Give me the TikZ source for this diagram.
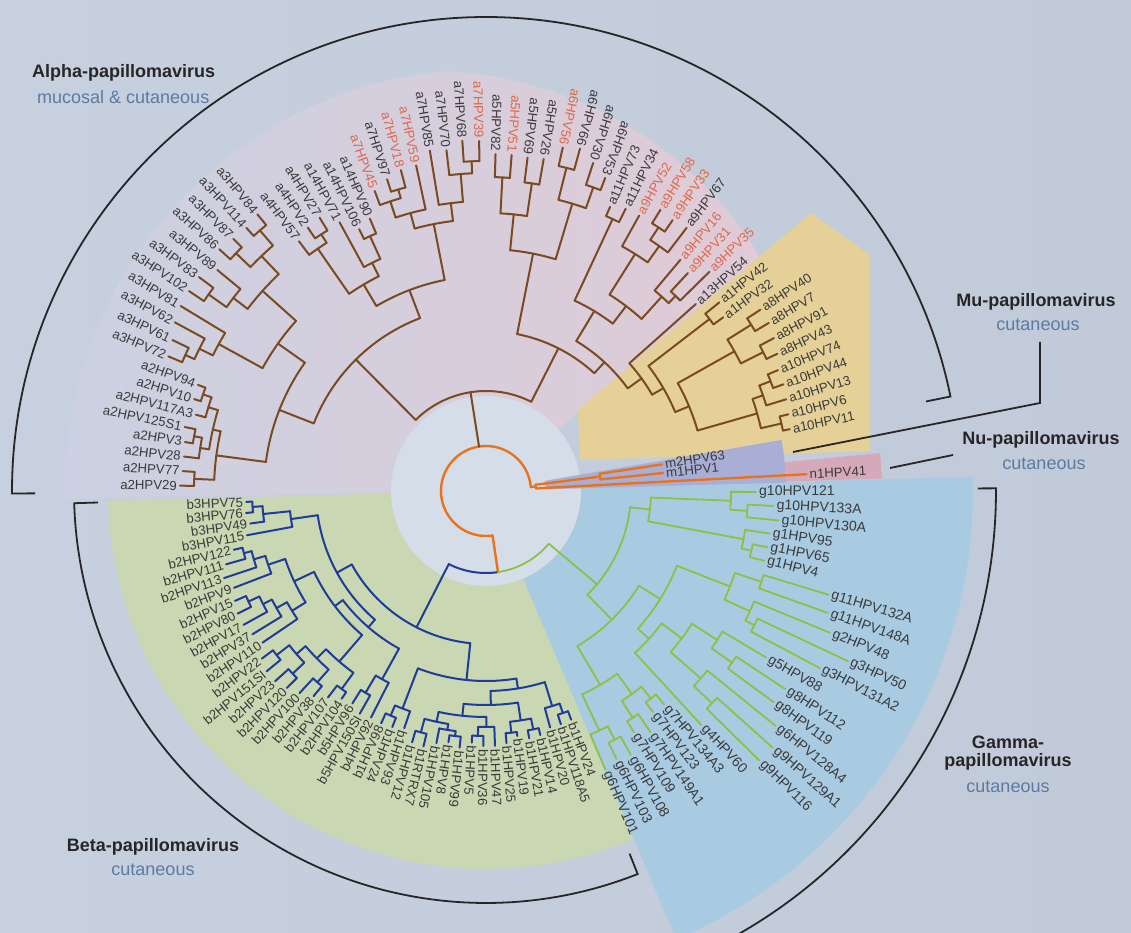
\documentclass[tikz,border=0pt]{standalone}
\usepackage{fontspec}
\setmainfont{Liberation Sans}
\definecolor{pagebg}{HTML}{C7D0DE}
\definecolor{pagebg2}{HTML}{C1CAD8}
\definecolor{discbg}{HTML}{D5DDE8}
\definecolor{alphaL}{HTML}{CBD1E2}
\definecolor{alphaR}{HTML}{E0CBD6}
\definecolor{yel}{HTML}{E5D197}
\definecolor{betabg}{HTML}{C9D7B2}
\definecolor{gambg}{HTML}{A9CBE2}
\definecolor{lav}{HTML}{A9AED6}
\definecolor{pnk}{HTML}{D6A9BA}
\definecolor{cbrn}{HTML}{7A4A22}
\definecolor{cblu}{HTML}{1F3C98}
\definecolor{cgrn}{HTML}{8DC046}
\definecolor{corg}{HTML}{E8731F}
\definecolor{clbl}{HTML}{3A3A3A}
\definecolor{chr}{HTML}{E0674B}
\definecolor{csub}{HTML}{5B7BA3}
\tikzset{
  brn/.style={draw=cbrn,line width=2pt,line cap=round},
  blu/.style={draw=cblu,line width=2pt,line cap=round},
  grn/.style={draw=cgrn,line width=1.8pt,line cap=round},
  org/.style={draw=corg,line width=2.4pt,line cap=round},
  ln/.style={text=clbl,inner sep=0pt,font=\fontsize{13.2}{14}\selectfont},
  lg/.style={ln,font=\fontsize{14}{15}\selectfont},
  lr/.style={ln,text=chr},
  brk/.style={draw=black!85,line width=1.8pt},
  ttl/.style={font=\fontsize{18}{20}\selectfont\bfseries,text=black!85,inner sep=0pt},
  sbt/.style={font=\fontsize{18}{20}\selectfont,text=csub,inner sep=0pt},
}
% internal node: style, angle, parent radius, radius, arc from, arc to
\newcommand\nd[6]{%
  \draw[#1] (#2:#3pt) -- (#2:#4pt);
  \draw[#1] (#5:#4pt) arc[start angle=#5,end angle=#6,radius=#4pt];}
% leaf: branch style, label style, name, angle, parent radius, tip radius, text
\newcommand\lf[7]{%
  \draw[#1] (#4:#5pt) -- (#4:#6pt);
  \pgfmathsetmacro\lbrad{#6+3}%
  \pgfmathtruncatemacro\isleft{and(#4>67.8,#4<247.8)}%
  \ifnum\isleft=1
    \node[#2,anchor=east,rotate=#4-180] (#3) at (#4:\lbrad pt) {#7};
  \else
    \node[#2,anchor=west,rotate=#4] (#3) at (#4:\lbrad pt) {#7};
  \fi}
\newcommand\sector[5]{\fill[#5] (#1:#3pt) -- (#1:#4pt) arc[start angle=#1,end angle=#2,radius=#4pt] -- (#2:#3pt) arc[start angle=#2,end angle=#1,radius=#3pt] -- cycle;}
\begin{document}
\begin{tikzpicture}[x=1pt,y=1pt]
\useasboundingbox (-486,-442) rectangle (645,491);
\clip (-486,-442) rectangle (645,491);
\shade[left color=pagebg,right color=pagebg2] (-486,-442) rectangle (645,491);
% background sectors
\shade[left color=alphaL,right color=alphaR] (40.5:95pt) -- plot[domain=40.5:181,samples=60,variable=\t] ({\t}:{360+62*min(1,(\t-40.5)/55)}) -- (181:95pt) arc[start angle=181,end angle=40.5,radius=95pt] -- cycle;
\fill[yel] (94,31) -- (92,81) -- (325,278) -- (384,236) -- (384,40) -- cycle;
\sector{181.5}{293}{95}{378}{betabg}
\sector{-67}{1.7}{95}{487}{gambg}
\fill[discbg] (0,0) circle[radius=95pt];
\sector{1.6}{9.8}{60}{300}{lav}
\sector{1.8}{5.5}{300}{396}{pnk}
% root
\draw[org] (5.1:45pt) arc[start angle=5.1,end angle=278.4,radius=45pt];
\draw[org] (5.1:45pt) -- (5.1:50pt);
\draw[org] (7.2:50pt) arc[start angle=7.2,end angle=3.0,radius=50pt];
\nd{org}{7.2}{50}{115}{8.6}{5.8}
\lf{org}{ln}{m2HPV63}{8.6}{115}{178}{m2HPV63}
\lf{org}{ln}{m1HPV1}{5.8}{115}{178}{m1HPV1}
\lf{org}{ln}{n1HPV41}{3.0}{50}{321}{n1HPV41}
\draw[org] (278.4:45pt) -- (278.4:82pt);
\draw[blu] (243:82pt) arc[start angle=243,end angle=278.4,radius=82pt];
\draw[grn] (278.4:82pt) arc[start angle=278.4,end angle=320,radius=82pt];
% ALPHA
\nd{brn}{98.9}{45}{100}{134.7}{63.1}
\nd{brn}{134.7}{100}{185}{158.58}{110.87}
\nd{brn}{158.58}{185}{222}{172.48}{144.68}
\nd{brn}{172.48}{222}{272}{177.63}{167.33}
\nd{brn}{177.63}{272}{292}{179.0}{176.25}
\lf{brn}{ln}{a2HPV29}{179.0}{292}{306}{a2HPV29}
\lf{brn}{ln}{a2HPV77}{176.25}{292}{304}{a2HPV77}
\nd{brn}{167.33}{272}{280}{171.44}{163.21}
\nd{brn}{171.44}{280}{289}{173.5}{169.38}
\lf{brn}{ln}{a2HPV28}{173.5}{289}{304}{a2HPV28}
\nd{brn}{169.38}{289}{297}{170.76}{168.0}
\lf{brn}{ln}{a2HPV3}{170.76}{297}{305}{a2HPV3}
\lf{brn}{ln}{a2HPV125S1}{168.0}{297}{308}{a2HPV125S1}
\nd{brn}{163.21}{280}{290}{165.27}{161.15}
\lf{brn}{ln}{a2HPV117A3}{165.27}{290}{300}{a2HPV117A3}
\nd{brn}{161.15}{290}{299}{162.52}{159.78}
\lf{brn}{ln}{a2HPV10}{162.52}{299}{306}{a2HPV10}
\lf{brn}{ln}{a2HPV94}{159.78}{299}{307}{a2HPV94}
\nd{brn}{144.68}{222}{255}{151.2}{138.16}
\nd{brn}{151.2}{255}{305}{153.6}{148.79}
\nd{brn}{153.6}{305}{320}{155.66}{151.54}
\nd{brn}{155.66}{320}{330}{157.03}{154.29}
\lf{brn}{ln}{a3HPV72}{157.03}{330}{345}{a3HPV72}
\lf{brn}{ln}{a3HPV61}{154.29}{330}{348}{a3HPV61}
\lf{brn}{ln}{a3HPV62}{151.54}{320}{354}{a3HPV62}
\lf{brn}{ln}{a3HPV81}{148.79}{305}{357}{a3HPV81}
\nd{brn}{138.16}{255}{300}{142.62}{133.7}
\nd{brn}{142.62}{300}{318}{144.68}{140.56}
\nd{brn}{144.68}{318}{340}{146.05}{143.3}
\lf{brn}{ln}{a3HPV102}{146.05}{340}{358}{a3HPV102}
\lf{brn}{ln}{a3HPV83}{143.3}{340}{358}{a3HPV83}
\lf{brn}{ln}{a3HPV89}{140.56}{318}{348}{a3HPV89}
\nd{brn}{133.7}{300}{325}{136.44}{130.95}
\nd{brn}{136.44}{325}{345}{137.81}{135.06}
\lf{brn}{ln}{a3HPV86}{137.81}{345}{360}{a3HPV86}
\lf{brn}{ln}{a3HPV87}{135.06}{345}{357}{a3HPV87}
\nd{brn}{130.95}{325}{345}{132.32}{129.57}
\lf{brn}{ln}{a3HPV114}{132.32}{345}{356}{a3HPV114}
\lf{brn}{ln}{a3HPV84}{129.57}{345}{359}{a3HPV84}
\nd{brn}{110.87}{185}{215}{120.65}{101.08}
\nd{brn}{120.65}{215}{240}{124.77}{116.53}
\nd{brn}{124.77}{240}{295}{126.83}{122.7}
\lf{brn}{ln}{a4HPV57}{126.83}{295}{312}{a4HPV57}
\nd{brn}{122.7}{295}{305}{124.08}{121.33}
\lf{brn}{ln}{a4HPV2}{124.08}{305}{318}{a4HPV2}
\lf{brn}{ln}{a4HPV27}{121.33}{305}{320}{a4HPV27}
\nd{brn}{116.53}{240}{255}{118.59}{114.47}
\lf{brn}{ln}{a14HPV71}{118.59}{255}{306}{a14HPV71}
\nd{brn}{114.47}{255}{280}{115.84}{113.1}
\lf{brn}{ln}{a14HPV106}{115.84}{280}{291}{a14HPV106}
\lf{brn}{ln}{a14HPV90}{113.1}{280}{296}{a14HPV90}
\nd{brn}{101.08}{215}{272}{105.2}{96.97}
\nd{brn}{105.2}{272}{288}{108.29}{102.11}
\nd{brn}{108.29}{288}{305}{110.35}{106.23}
\lf{brn}{lr}{a7HPV45}{110.35}{305}{320}{a7HPV45}
\nd{brn}{106.23}{305}{314}{107.6}{104.86}
\lf{brn}{ln}{a7HPV97}{107.6}{314}{327}{a7HPV97}
\lf{brn}{lr}{a7HPV18}{104.86}{314}{332}{a7HPV18}
\lf{brn}{lr}{a7HPV59}{102.11}{288}{333}{a7HPV59}
\nd{brn}{96.97}{272}{290}{99.37}{94.56}
\lf{brn}{ln}{a7HPV85}{99.37}{290}{345}{a7HPV85}
\nd{brn}{94.56}{290}{318}{96.62}{92.5}
\lf{brn}{ln}{a7HPV70}{96.62}{318}{343}{a7HPV70}
\nd{brn}{92.5}{318}{330}{93.87}{91.13}
\lf{brn}{ln}{a7HPV68}{93.87}{330}{351}{a7HPV68}
\lf{brn}{lr}{a7HPV39}{91.13}{330}{350}{a7HPV39}
\nd{brn}{63.1}{100}{160}{78.78}{47.4}
\nd{brn}{78.78}{160}{242}{84.27}{73.28}
\nd{brn}{84.27}{242}{278}{87.01}{81.52}
\nd{brn}{87.01}{278}{314}{88.38}{85.64}
\lf{brn}{ln}{a5HPV82}{88.38}{314}{337}{a5HPV82}
\lf{brn}{lr}{a5HPV51}{85.64}{314}{337}{a5HPV51}
\nd{brn}{81.52}{278}{311}{82.89}{80.14}
\lf{brn}{ln}{a5HPV69}{82.89}{311}{336}{a5HPV69}
\lf{brn}{ln}{a5HPV26}{80.14}{311}{337}{a5HPV26}
\nd{brn}{73.28}{242}{300}{76.03}{70.54}
\nd{brn}{76.03}{300}{333}{77.4}{74.65}
\lf{brn}{lr}{a6HPV56}{77.4}{333}{352}{a6HPV56}
\lf{brn}{ln}{a6HPV66}{74.65}{333}{355}{a6HPV66}
\nd{brn}{70.54}{300}{322}{71.91}{69.16}
\lf{brn}{ln}{a6HPV30}{71.91}{322}{345}{a6HPV30}
\lf{brn}{ln}{a6HPV53}{69.16}{322}{335}{a6HPV53}
\nd{brn}{47.4}{160}{175}{58.95}{35.9}
\nd{brn}{58.95}{175}{210}{65.04}{52.86}
\nd{brn}{65.04}{210}{300}{66.41}{63.67}
\lf{brn}{ln}{a11HPV73}{66.41}{300}{310}{a11HPV73}
\lf{brn}{ln}{a11HPV34}{63.67}{300}{315}{a11HPV34}
\nd{brn}{52.86}{210}{232}{57.83}{47.88}
\nd{brn}{57.83}{232}{280}{60.92}{54.74}
\lf{brn}{lr}{a9HPV52}{60.92}{280}{315}{a9HPV52}
\nd{brn}{54.74}{280}{300}{56.8}{52.68}
\nd{brn}{56.8}{300}{315}{58.18}{55.43}
\lf{brn}{lr}{a9HPV58}{58.18}{315}{331}{a9HPV58}
\lf{brn}{lr}{a9HPV33}{55.43}{315}{329}{a9HPV33}
\lf{brn}{ln}{a9HPV67}{52.68}{300}{331}{a9HPV67}
\nd{brn}{47.88}{232}{262}{49.94}{45.82}
\lf{brn}{lr}{a9HPV16}{49.94}{262}{302}{a9HPV16}
\nd{brn}{45.82}{262}{272}{47.19}{44.45}
\lf{brn}{lr}{a9HPV31}{47.19}{272}{297}{a9HPV31}
\lf{brn}{lr}{a9HPV35}{44.45}{272}{313}{a9HPV35}
\nd{brn}{35.9}{175}{192}{41.7}{30.1}
\lf{brn}{ln}{a13HPV54}{41.7}{192}{281}{a13HPV54}
\nd{brn}{30.1}{192}{205}{37.58}{22.65}
\nd{brn}{37.58}{205}{282}{38.95}{36.21}
\lf{brn}{ln}{a1HPV42}{38.95}{282}{300}{a1HPV42}
\lf{brn}{ln}{a1HPV32}{36.21}{282}{294}{a1HPV32}
\nd{brn}{22.65}{205}{220}{29.35}{15.96}
\nd{brn}{29.35}{220}{285}{32.09}{26.6}
\nd{brn}{32.09}{285}{313}{33.46}{30.72}
\lf{brn}{ln}{a8HPV40}{33.46}{313}{329}{a8HPV40}
\lf{brn}{ln}{a8HPV7}{30.72}{313}{329}{a8HPV7}
\nd{brn}{26.6}{285}{310}{27.97}{25.22}
\lf{brn}{ln}{a8HPV91}{27.97}{310}{326}{a8HPV91}
\lf{brn}{ln}{a8HPV43}{25.22}{310}{322}{a8HPV43}
\nd{brn}{15.96}{220}{282}{19.05}{12.87}
\nd{brn}{19.05}{282}{293}{21.1}{16.99}
\nd{brn}{21.1}{293}{305}{22.48}{19.73}
\lf{brn}{ln}{a10HPV74}{22.48}{305}{316}{a10HPV74}
\lf{brn}{ln}{a10HPV44}{19.73}{305}{316}{a10HPV44}
\lf{brn}{ln}{a10HPV13}{16.99}{293}{314}{a10HPV13}
\nd{brn}{12.87}{282}{303}{14.24}{11.5}
\lf{brn}{ln}{a10HPV6}{14.24}{303}{312}{a10HPV6}
\lf{brn}{ln}{a10HPV11}{11.5}{303}{310}{a10HPV11}
% BETA
\nd{blu}{243}{82}{153}{208.7}{264.1}
\nd{blu}{208.7}{153}{170}{188.2}{229.2}
\nd{blu}{188.2}{170}{197}{185.9}{190.49}
\nd{blu}{185.9}{197}{224}{183.9}{187.86}
\nd{blu}{183.9}{224}{234}{182.6}{185.23}
\lf{blu}{ln}{b3HPV75}{182.6}{234}{240}{b3HPV75}
\lf{blu}{ln}{b3HPV76}{185.23}{234}{241}{b3HPV76}
\lf{blu}{ln}{b3HPV49}{187.86}{224}{238}{b3HPV49}
\lf{blu}{ln}{b3HPV115}{190.49}{197}{243}{b3HPV115}
\nd{blu}{229.2}{170}{180}{217.3}{241.1}
\nd{blu}{217.3}{180}{190}{205.2}{229.3}
\nd{blu}{205.2}{190}{212}{198.7}{211.7}
\nd{blu}{198.7}{212}{230}{196.4}{201.01}
\nd{blu}{196.4}{230}{242}{194.4}{198.38}
\nd{blu}{194.4}{242}{250}{193.12}{195.75}
\lf{blu}{ln}{b2HPV122}{193.12}{250}{259}{b2HPV122}
\lf{blu}{ln}{b2HPV111}{195.75}{250}{270}{b2HPV111}
\lf{blu}{ln}{b2HPV113}{198.38}{242}{276}{b2HPV113}
\lf{blu}{ln}{b2HPV9}{201.01}{230}{270}{b2HPV9}
\nd{blu}{211.7}{212}{228}{209.2}{214.16}
\nd{blu}{209.2}{228}{240}{206.9}{211.53}
\nd{blu}{206.9}{240}{250}{204.96}{208.9}
\nd{blu}{204.96}{250}{262}{203.64}{206.27}
\lf{blu}{ln}{b2HPV15}{203.64}{262}{274}{b2HPV15}
\lf{blu}{ln}{b2HPV80}{206.27}{262}{277}{b2HPV80}
\lf{blu}{ln}{b2HPV17}{208.9}{250}{277}{b2HPV17}
\lf{blu}{ln}{b2HPV37}{211.53}{240}{274}{b2HPV37}
\lf{blu}{ln}{b2HPV110}{214.16}{228}{270}{b2HPV110}
\nd{blu}{229.3}{190}{225}{224.7}{233.9}
\nd{blu}{224.7}{225}{238}{220.7}{228.6}
\nd{blu}{220.7}{238}{250}{218.1}{223.37}
\nd{blu}{218.1}{250}{266}{216.79}{219.42}
\lf{blu}{ln}{b2HPV22}{216.79}{266}{280}{b2HPV22}
\lf{blu}{ln}{b2HPV151SI}{219.42}{266}{284}{b2HPV151SI}
\nd{blu}{223.37}{250}{266}{222.05}{224.68}
\lf{blu}{ln}{b2HPV23}{222.05}{266}{284}{b2HPV23}
\lf{blu}{ln}{b2HPV120}{224.68}{266}{280}{b2HPV120}
\nd{blu}{228.6}{238}{255}{227.31}{229.94}
\lf{blu}{ln}{b2HPV100}{227.31}{255}{275}{b2HPV100}
\lf{blu}{ln}{b2HPV38}{229.94}{255}{268}{b2HPV38}
\nd{blu}{233.9}{225}{245}{232.57}{235.2}
\lf{blu}{ln}{b2HPV107}{232.57}{245}{260}{b2HPV107}
\lf{blu}{ln}{b2HPV104}{235.2}{245}{253}{b2HPV104}
\nd{blu}{241.1}{180}{215}{239.15}{243.09}
\nd{blu}{239.15}{215}{235}{237.83}{240.46}
\lf{blu}{ln}{b5HPV96}{237.83}{235}{251}{b5HPV96}
\lf{blu}{ln}{b5HPV150SI}{240.46}{235}{256}{b5HPV150SI}
\lf{blu}{ln}{b4HPV92}{243.09}{215}{254}{b4HPV92}
\nd{blu}{264.1}{153}{190}{249.0}{279.2}
\nd{blu}{249.0}{190}{233}{247.0}{250.98}
\nd{blu}{247.0}{233}{244}{245.72}{248.35}
\lf{blu}{ln}{b1HPV98}{245.72}{244}{255}{b1HPV98}
\lf{blu}{ln}{b1HPV24a}{248.35}{244}{254}{b1HPV24}
\lf{blu}{ln}{b1HPV93}{250.98}{233}{251}{b1HPV93}
\nd{blu}{279.2}{190}{200}{271.3}{287.1}
\nd{blu}{271.3}{200}{214}{264}{278.6}
\nd{blu}{264}{214}{226}{257.9}{270.1}
\nd{blu}{257.9}{226}{236}{254.9}{260.8}
\nd{blu}{254.9}{236}{250}{253.61}{256.24}
\lf{blu}{ln}{b1HPV12}{253.61}{250}{262}{b1HPV12}
\lf{blu}{ln}{b1RTRX7}{256.24}{250}{263}{b1RTRX7}
\nd{blu}{260.8}{236}{242}{258.87}{262.8}
\lf{blu}{ln}{b1HPV105}{258.87}{242}{257}{b1HPV105}
\nd{blu}{262.8}{242}{247}{261.5}{264.13}
\lf{blu}{ln}{b1HPV8}{261.5}{247}{254}{b1HPV8}
\lf{blu}{ln}{b1HPV99}{264.13}{247}{258}{b1HPV99}
\nd{blu}{270.1}{226}{236}{268.1}{272.02}
\nd{blu}{268.1}{236}{245}{266.76}{269.39}
\lf{blu}{ln}{b1HPV5}{266.76}{245}{252}{b1HPV5}
\lf{blu}{ln}{b1HPV36}{269.39}{245}{255}{b1HPV36}
\lf{blu}{ln}{b1HPV47}{272.02}{236}{255}{b1HPV47}
\nd{blu}{278.6}{214}{232}{275.97}{281.2}
\nd{blu}{275.97}{232}{243}{274.65}{277.28}
\lf{blu}{ln}{b1HPV25}{274.65}{243}{253}{b1HPV25}
\lf{blu}{ln}{b1HPV19}{277.28}{243}{247}{b1HPV19}
\nd{blu}{281.2}{232}{243}{279.91}{282.54}
\lf{blu}{ln}{b1HPV21}{279.91}{243}{251}{b1HPV21}
\lf{blu}{ln}{b1HPV14}{282.54}{243}{250}{b1HPV14}
\nd{blu}{287.1}{200}{225}{285.17}{289.1}
\lf{blu}{ln}{b1HPV20}{285.17}{225}{245}{b1HPV20}
\nd{blu}{289.1}{225}{235}{287.8}{290.43}
\lf{blu}{ln}{b1HPV118A5}{287.8}{235}{245}{b1HPV118A5}
\lf{blu}{ln}{b1HPV24b}{290.43}{235}{244}{b1HPV24}
% GAMMA
\nd{grn}{-40}{82}{145}{-6.44}{-45.65}
\nd{grn}{-6.44}{145}{165}{-2.28}{-10.6}
\nd{grn}{-2.28}{165}{245}{-0.2}{-4.37}
\lf{grn}{lg}{g10HPV121}{-0.2}{245}{270}{g10HPV121}
\nd{grn}{-4.37}{245}{262}{-2.98}{-5.75}
\lf{grn}{lg}{g10HPV133A}{-2.98}{262}{288}{g10HPV133A}
\lf{grn}{lg}{g10HPV130A}{-5.75}{262}{294}{g10HPV130A}
\nd{grn}{-10.6}{165}{262}{-8.53}{-12.69}
\lf{grn}{lg}{g1HPV95}{-8.53}{262}{287}{g1HPV95}
\nd{grn}{-12.69}{262}{272}{-11.3}{-14.08}
\lf{grn}{lg}{g1HPV65}{-11.3}{272}{287}{g1HPV65}
\lf{grn}{lg}{g1HPV4}{-14.08}{272}{287}{g1HPV4}
\nd{grn}{-45.65}{145}{180}{-31.8}{-59.5}
\nd{grn}{-31.8}{180}{205}{-21.37}{-42.2}
\nd{grn}{-21.37}{205}{262}{-18.24}{-24.5}
\nd{grn}{-18.24}{262}{290}{-16.85}{-19.63}
\lf{grn}{lg}{g11HPV132A}{-16.85}{290}{358}{g11HPV132A}
\lf{grn}{lg}{g11HPV148A}{-19.63}{290}{363}{g11HPV148A}
\nd{grn}{-24.5}{262}{290}{-22.4}{-26.57}
\lf{grn}{lg}{g2HPV48}{-22.4}{290}{372}{g2HPV48}
\nd{grn}{-26.57}{290}{300}{-25.18}{-27.95}
\lf{grn}{lg}{g3HPV50}{-25.18}{300}{400}{g3HPV50}
\lf{grn}{lg}{g3HPV131A2}{-27.95}{300}{378}{g3HPV131A2}
\nd{grn}{-42.2}{205}{220}{-37}{-47.38}
\nd{grn}{-37}{220}{245}{-32.8}{-41.1}
\nd{grn}{-32.8}{245}{275}{-30.73}{-34.89}
\lf{grn}{lg}{g5HPV88}{-30.73}{275}{326}{g5HPV88}
\nd{grn}{-34.89}{275}{300}{-33.5}{-36.28}
\lf{grn}{lg}{g8HPV112}{-33.5}{300}{359}{g8HPV112}
\lf{grn}{lg}{g8HPV119}{-36.28}{300}{357}{g8HPV119}
\nd{grn}{-41.1}{245}{285}{-39.05}{-43.2}
\lf{grn}{lg}{g6HPV128A4}{-39.05}{285}{373}{g6HPV128A4}
\nd{grn}{-43.2}{285}{310}{-41.83}{-44.6}
\lf{grn}{lg}{g9HPV129A1}{-41.83}{310}{385}{g9HPV129A1}
\lf{grn}{lg}{g9HPV116}{-44.6}{310}{384}{g9HPV116}
\lf{grn}{lg}{g4HPV60}{-47.38}{220}{318}{g4HPV60}
\nd{grn}{-59.5}{180}{225}{-54.3}{-64.7}
\nd{grn}{-54.3}{225}{250}{-51.54}{-57.09}
\nd{grn}{-51.54}{250}{265}{-50.15}{-52.93}
\lf{grn}{lg}{g7HPV134A3}{-50.15}{265}{278}{g7HPV134A3}
\lf{grn}{lg}{g7HPV123}{-52.93}{265}{277}{g7HPV123}
\nd{grn}{-57.09}{250}{270}{-55.7}{-58.48}
\lf{grn}{lg}{g7HPV149A1}{-55.7}{270}{292}{g7HPV149A1}
\lf{grn}{lg}{g7HPV109}{-58.48}{270}{283}{g7HPV109}
\nd{grn}{-64.7}{225}{265}{-62.64}{-66.8}
\nd{grn}{-62.64}{265}{280}{-61.25}{-64.03}
\lf{grn}{lg}{g6HPV108}{-61.25}{280}{301}{g6HPV108}
\lf{grn}{lg}{g6HPV103}{-64.03}{280}{298}{g6HPV103}
\lf{grn}{lg}{g6HPV101}{-66.8}{265}{303}{g6HPV101}
% brackets
\draw[brk] (180.3:451pt) -- (180.3:474pt) arc[start angle=180.3,end angle=11.5,radius=474pt] -- (11.5:449pt);
\draw[brk] (181.7:388pt) -- (181.7:412pt) arc[start angle=181.7,end angle=291.6,radius=412pt] -- (291.6:390pt);
\draw[brk] (0.3:492pt) -- (0.3:510pt) arc[start angle=0.3,end angle=-64,radius=510pt];
\draw[brk] (307,39) -- (554,88) -- (554,149);
\draw[brk] (404,23) -- (467,36);
% titles
\node[ttl,anchor=west] (talpha) at (-454,418) {Alpha-papillomavirus};
\node[sbt,anchor=west] (salpha) at (-449,394) {mucosal \& cutaneous};
\node[ttl] (tmu) at (550,189) {Mu-papillomavirus};
\node[sbt] (smu) at (552,166) {cutaneous};
\node[ttl] (tnu) at (555,51) {Nu-papillomavirus};
\node[sbt] (snu) at (558,27) {cutaneous};
\node[ttl] (tgam1) at (522,-251) {Gamma-};
\node[ttl] (tgam2) at (522,-271) {papillomavirus};
\node[sbt] (sgam) at (522,-296) {cutaneous};
\node[ttl] (tbeta) at (-333,-356) {Beta-papillomavirus};
\node[sbt] (sbeta) at (-333,-379) {cutaneous};
\end{tikzpicture}
\end{document}
